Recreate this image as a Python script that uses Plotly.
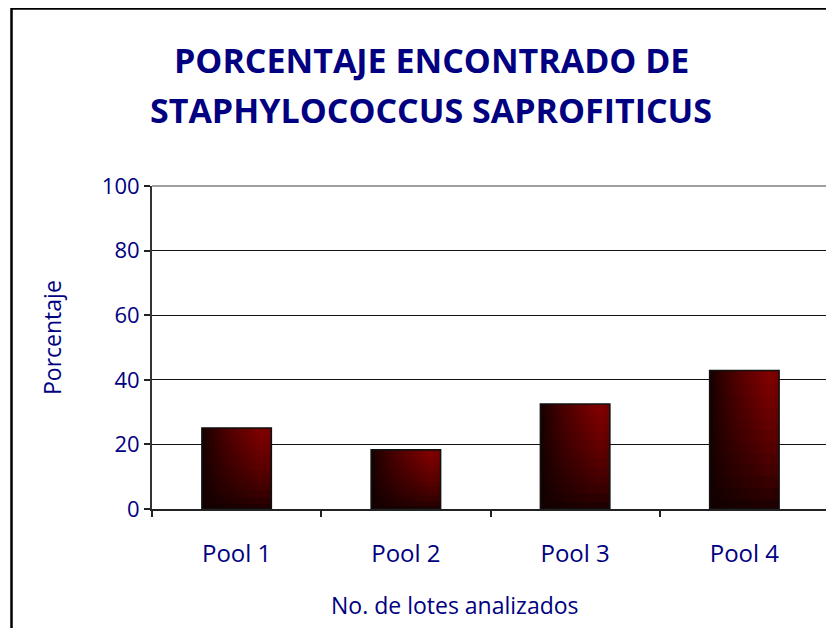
import plotly.graph_objects as go

# ---- data ----
categories = ["Pool 1", "Pool 2", "Pool 3", "Pool 4"]
porcentaje = [25.1, 18.3, 32.5, 42.9]
y_ticks = [0, 20, 40, 60, 80, 100]
title_line1 = "PORCENTAJE ENCONTRADO DE"
title_line2 = "STAPHYLOCOCCUS SAPROFITICUS"
x_title = "No. de lotes analizados"
y_title = "Porcentaje"

FONT = "Comic Sans MS, Open Sans, sans-serif"
NAVY = "#000080"

BAR_W = 0.41
NU, NV = 18, 12
OVL = 0.6  # vertical overlap between stacked gradient slices (data units)

# page offset of the figure inside the browser body (default 8px margin)
OFF = 8
L, T, R, B = 152 - OFF, 186 - OFF, 5, 119
W, H = 834 - OFF, 628 - OFF
PW, PH = W - L - R, H - T - B


def px_x(x):  # target pixel -> paper x
    return (x - OFF - L) / PW


def px_y(y):  # target pixel -> paper y
    return 1 - (y - OFF - T) / PH


def shade(u, v):
    hu = (u / 0.85) ** 0.75 if u <= 0.85 else 1.0 - (u - 0.85) * 0.6
    gv = v ** 0.65
    r = 18 + 112 * hu * gv
    return f"rgb({int(r)},0,0)"


fig = go.Figure()
step = BAR_W / NU
for j in range(NV):
    v0 = j / NV
    v1 = (j + 1) / NV
    vm = (v0 + v1) / 2
    for i in range(NU):
        um = (i + 0.5) / NU
        w = step * 1.3 if i < NU - 1 else step
        bases = [max(0.0, p * v0 - OVL) for p in porcentaje]
        tops = [p * v1 for p in porcentaje]
        fig.add_trace(go.Bar(
            x=categories,
            y=[t - b for t, b in zip(tops, bases)],
            base=bases,
            width=w,
            offset=-BAR_W / 2 + i * step,
            marker=dict(color=shade(um, vm), line=dict(width=0)),
            hoverinfo="skip",
            showlegend=False,
        ))

# outline
fig.add_trace(go.Bar(
    x=categories,
    y=porcentaje,
    width=BAR_W,
    marker=dict(color="rgba(0,0,0,0)", line=dict(color="#111", width=1.6)),
    hoverinfo="skip",
    showlegend=False,
))

fig.update_layout(
    width=W, height=H,
    margin=dict(l=L, r=R, t=T, b=B),
    paper_bgcolor="white", plot_bgcolor="white",
    barmode="overlay",
    showlegend=False,
    font=dict(family=FONT, color=NAVY),
)
fig.update_xaxes(
    type="category",
    tickson="boundaries",
    ticks="outside", ticklen=6, tickcolor="#222", tickwidth=1.5,
    showline=True, linecolor="#222", linewidth=2,
    showgrid=False,
    tickfont=dict(family=FONT, size=24, color=NAVY),
    ticklabelstandoff=22,
)
fig.update_yaxes(
    range=[0, 100],
    tickvals=y_ticks,
    ticks="outside", ticklen=6, tickcolor="#222", tickwidth=1.5,
    showline=True, linecolor="#333", linewidth=2,
    showgrid=True, gridcolor="#111", gridwidth=1.2,
    zeroline=False,
    tickfont=dict(family=FONT, size=22, color=NAVY),
)

# plot-area border (top and right, grey)
fig.add_shape(type="line", xref="paper", yref="paper", x0=0, x1=1, y0=1, y1=1,
              line=dict(color="#a0a0a0", width=2), layer="above")
fig.add_shape(type="line", xref="paper", yref="paper", x0=1, x1=1, y0=0, y1=1,
              line=dict(color="#a0a0a0", width=2), layer="above")
# outer chart border
fig.add_shape(type="rect", xref="paper", yref="paper",
              x0=px_x(11.5), x1=1.3, y0=-0.8, y1=px_y(8.5),
              line=dict(color="black", width=2.5), layer="above")

ann = dict(xref="paper", yref="paper", showarrow=False,
           xanchor="center", yanchor="middle")
fig.add_annotation(text=f"<b>{title_line1}</b>", x=px_x(431), y=px_y(60),
                   font=dict(family=FONT, size=34, color=NAVY), **ann)
fig.add_annotation(text=f"<b>{title_line2}</b>", x=px_x(431), y=px_y(110),
                   font=dict(family=FONT, size=34, color=NAVY), **ann)
fig.add_annotation(text=x_title, x=px_x(455), y=px_y(605),
                   font=dict(family=FONT, size=23, color=NAVY), **ann)
fig.add_annotation(text=y_title, textangle=-90, x=px_x(52), y=px_y(338),
                   font=dict(family=FONT, size=23, color=NAVY), **ann)

fig.write_html("out.html")
